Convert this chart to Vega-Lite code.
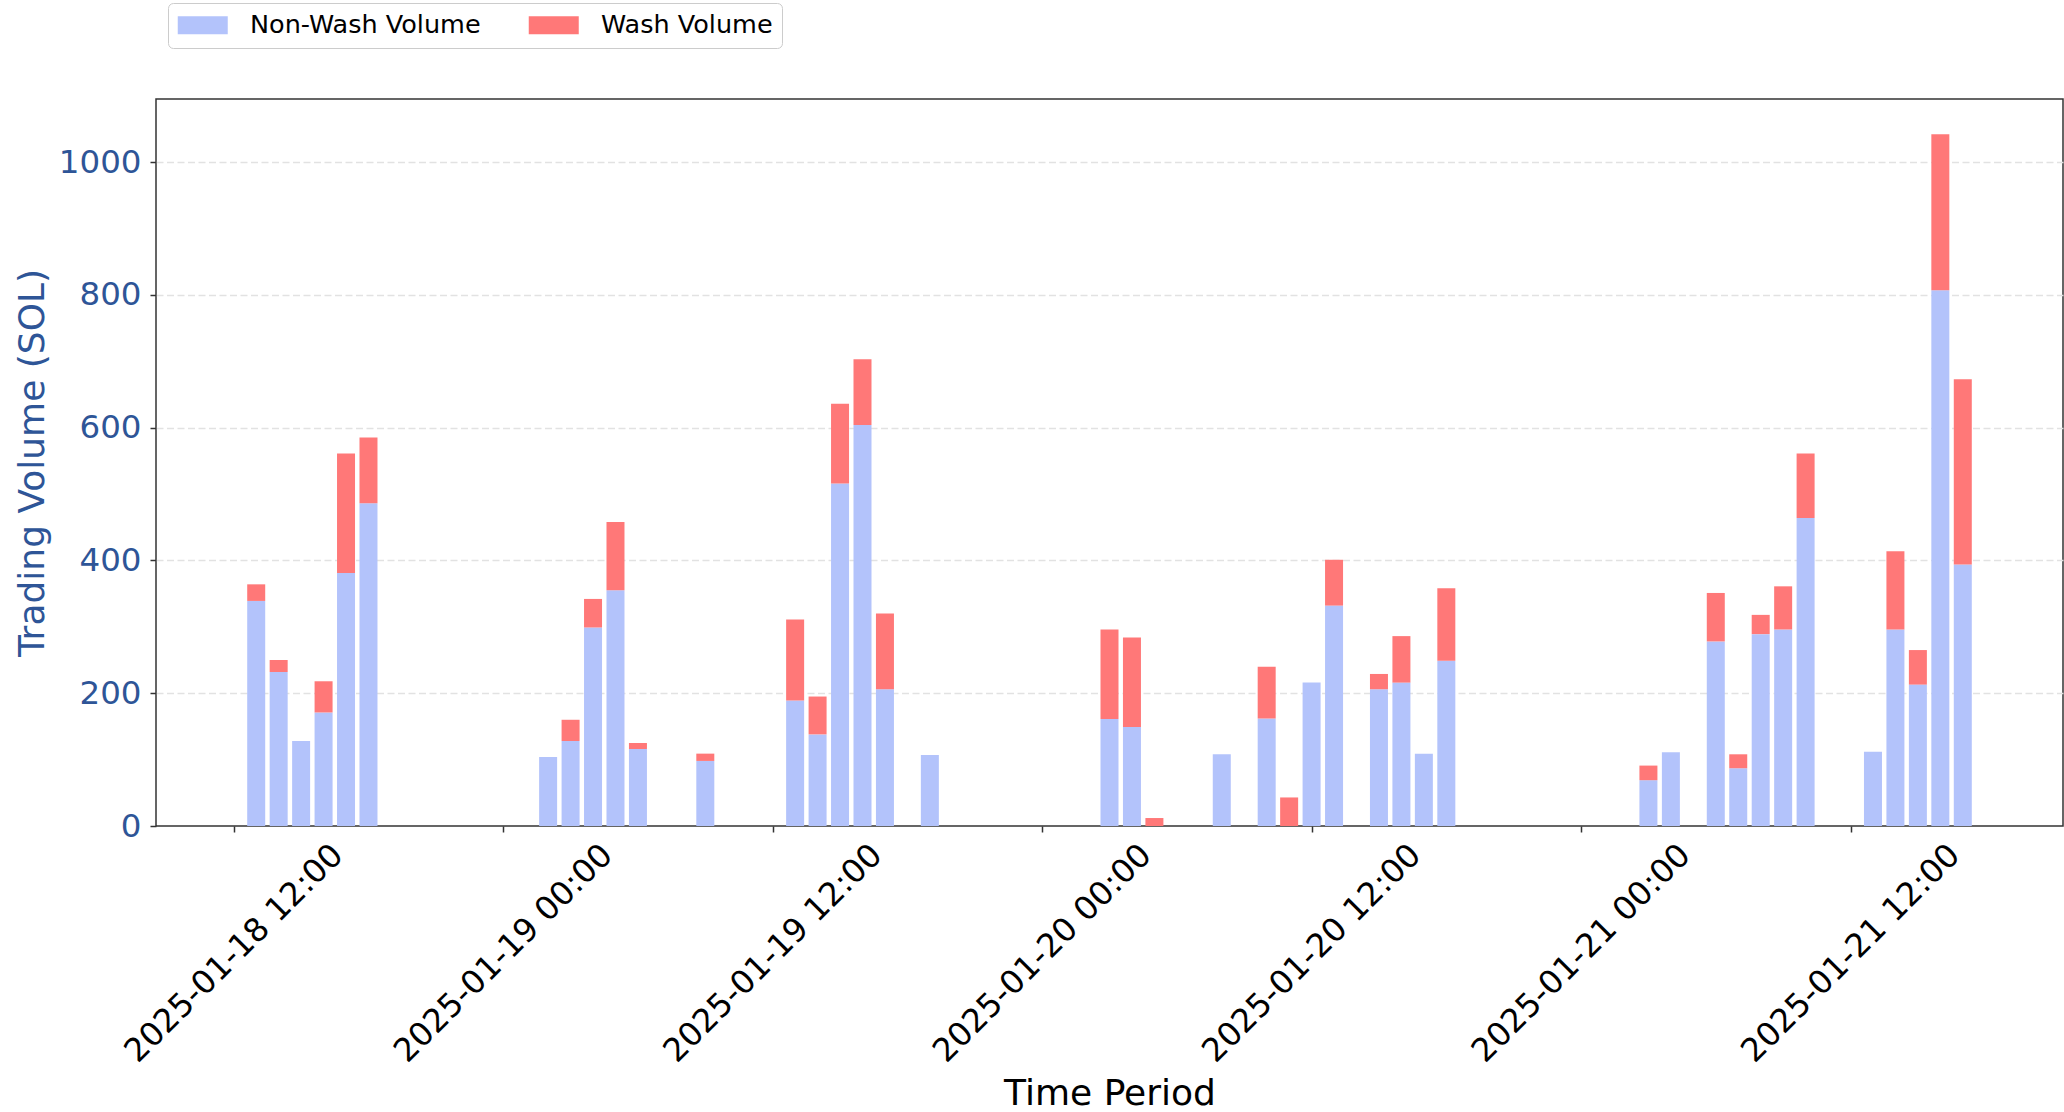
{
  "$schema": "https://vega.github.io/schema/vega-lite/v6.json",
  "width": 1907,
  "height": 727,
  "autosize": {"type": "none"},
  "padding": {"left": 156, "top": 99, "right": 1, "bottom": 286},
  "background": "white",
  "config": {
    "font": "DejaVu Sans",
    "view": {"stroke": "#333333", "strokeWidth": 1.5}
  },
  "data": {
    "values": [
      {"time": "2025-01-18T13:00:00Z", "series": "Non-Wash Volume", "volume": 339},
      {"time": "2025-01-18T13:00:00Z", "series": "Wash Volume", "volume": 25},
      {"time": "2025-01-18T14:00:00Z", "series": "Non-Wash Volume", "volume": 232},
      {"time": "2025-01-18T14:00:00Z", "series": "Wash Volume", "volume": 18},
      {"time": "2025-01-18T15:00:00Z", "series": "Non-Wash Volume", "volume": 128},
      {"time": "2025-01-18T16:00:00Z", "series": "Non-Wash Volume", "volume": 171},
      {"time": "2025-01-18T16:00:00Z", "series": "Wash Volume", "volume": 47},
      {"time": "2025-01-18T17:00:00Z", "series": "Non-Wash Volume", "volume": 381},
      {"time": "2025-01-18T17:00:00Z", "series": "Wash Volume", "volume": 180},
      {"time": "2025-01-18T18:00:00Z", "series": "Non-Wash Volume", "volume": 486},
      {"time": "2025-01-18T18:00:00Z", "series": "Wash Volume", "volume": 99},

      {"time": "2025-01-19T02:00:00Z", "series": "Non-Wash Volume", "volume": 104},
      {"time": "2025-01-19T03:00:00Z", "series": "Non-Wash Volume", "volume": 128},
      {"time": "2025-01-19T03:00:00Z", "series": "Wash Volume", "volume": 32},
      {"time": "2025-01-19T04:00:00Z", "series": "Non-Wash Volume", "volume": 299},
      {"time": "2025-01-19T04:00:00Z", "series": "Wash Volume", "volume": 43},
      {"time": "2025-01-19T05:00:00Z", "series": "Non-Wash Volume", "volume": 355},
      {"time": "2025-01-19T05:00:00Z", "series": "Wash Volume", "volume": 103},
      {"time": "2025-01-19T06:00:00Z", "series": "Non-Wash Volume", "volume": 116},
      {"time": "2025-01-19T06:00:00Z", "series": "Wash Volume", "volume": 9},
      {"time": "2025-01-19T09:00:00Z", "series": "Non-Wash Volume", "volume": 98},
      {"time": "2025-01-19T09:00:00Z", "series": "Wash Volume", "volume": 11},
      {"time": "2025-01-19T13:00:00Z", "series": "Non-Wash Volume", "volume": 189},
      {"time": "2025-01-19T13:00:00Z", "series": "Wash Volume", "volume": 122},
      {"time": "2025-01-19T14:00:00Z", "series": "Non-Wash Volume", "volume": 138},
      {"time": "2025-01-19T14:00:00Z", "series": "Wash Volume", "volume": 57},
      {"time": "2025-01-19T15:00:00Z", "series": "Non-Wash Volume", "volume": 516},
      {"time": "2025-01-19T15:00:00Z", "series": "Wash Volume", "volume": 120},
      {"time": "2025-01-19T16:00:00Z", "series": "Non-Wash Volume", "volume": 604},
      {"time": "2025-01-19T16:00:00Z", "series": "Wash Volume", "volume": 99},
      {"time": "2025-01-19T17:00:00Z", "series": "Non-Wash Volume", "volume": 206},
      {"time": "2025-01-19T17:00:00Z", "series": "Wash Volume", "volume": 114},
      {"time": "2025-01-19T19:00:00Z", "series": "Non-Wash Volume", "volume": 107},

      {"time": "2025-01-20T03:00:00Z", "series": "Non-Wash Volume", "volume": 161},
      {"time": "2025-01-20T03:00:00Z", "series": "Wash Volume", "volume": 135},
      {"time": "2025-01-20T04:00:00Z", "series": "Non-Wash Volume", "volume": 149},
      {"time": "2025-01-20T04:00:00Z", "series": "Wash Volume", "volume": 135},
      {"time": "2025-01-20T05:00:00Z", "series": "Wash Volume", "volume": 12},
      {"time": "2025-01-20T08:00:00Z", "series": "Non-Wash Volume", "volume": 108},
      {"time": "2025-01-20T10:00:00Z", "series": "Non-Wash Volume", "volume": 162},
      {"time": "2025-01-20T10:00:00Z", "series": "Wash Volume", "volume": 78},
      {"time": "2025-01-20T11:00:00Z", "series": "Wash Volume", "volume": 43},
      {"time": "2025-01-20T12:00:00Z", "series": "Non-Wash Volume", "volume": 216},
      {"time": "2025-01-20T13:00:00Z", "series": "Non-Wash Volume", "volume": 332},
      {"time": "2025-01-20T13:00:00Z", "series": "Wash Volume", "volume": 69},
      {"time": "2025-01-20T15:00:00Z", "series": "Non-Wash Volume", "volume": 206},
      {"time": "2025-01-20T15:00:00Z", "series": "Wash Volume", "volume": 23},
      {"time": "2025-01-20T16:00:00Z", "series": "Non-Wash Volume", "volume": 216},
      {"time": "2025-01-20T16:00:00Z", "series": "Wash Volume", "volume": 70},
      {"time": "2025-01-20T17:00:00Z", "series": "Non-Wash Volume", "volume": 109},
      {"time": "2025-01-20T18:00:00Z", "series": "Non-Wash Volume", "volume": 249},
      {"time": "2025-01-20T18:00:00Z", "series": "Wash Volume", "volume": 109},

      {"time": "2025-01-21T03:00:00Z", "series": "Non-Wash Volume", "volume": 69},
      {"time": "2025-01-21T03:00:00Z", "series": "Wash Volume", "volume": 22},
      {"time": "2025-01-21T04:00:00Z", "series": "Non-Wash Volume", "volume": 111},
      {"time": "2025-01-21T06:00:00Z", "series": "Non-Wash Volume", "volume": 278},
      {"time": "2025-01-21T06:00:00Z", "series": "Wash Volume", "volume": 73},
      {"time": "2025-01-21T07:00:00Z", "series": "Non-Wash Volume", "volume": 87},
      {"time": "2025-01-21T07:00:00Z", "series": "Wash Volume", "volume": 21},
      {"time": "2025-01-21T08:00:00Z", "series": "Non-Wash Volume", "volume": 289},
      {"time": "2025-01-21T08:00:00Z", "series": "Wash Volume", "volume": 29},
      {"time": "2025-01-21T09:00:00Z", "series": "Non-Wash Volume", "volume": 296},
      {"time": "2025-01-21T09:00:00Z", "series": "Wash Volume", "volume": 65},
      {"time": "2025-01-21T10:00:00Z", "series": "Non-Wash Volume", "volume": 464},
      {"time": "2025-01-21T10:00:00Z", "series": "Wash Volume", "volume": 97},
      {"time": "2025-01-21T13:00:00Z", "series": "Non-Wash Volume", "volume": 112},
      {"time": "2025-01-21T14:00:00Z", "series": "Non-Wash Volume", "volume": 296},
      {"time": "2025-01-21T14:00:00Z", "series": "Wash Volume", "volume": 118},
      {"time": "2025-01-21T15:00:00Z", "series": "Non-Wash Volume", "volume": 213},
      {"time": "2025-01-21T15:00:00Z", "series": "Wash Volume", "volume": 52},
      {"time": "2025-01-21T16:00:00Z", "series": "Non-Wash Volume", "volume": 807},
      {"time": "2025-01-21T16:00:00Z", "series": "Wash Volume", "volume": 235},
      {"time": "2025-01-21T17:00:00Z", "series": "Non-Wash Volume", "volume": 394},
      {"time": "2025-01-21T17:00:00Z", "series": "Wash Volume", "volume": 279}
    ]
  },
  "mark": {"type": "bar", "width": 18},
  "encoding": {
    "x": {
      "field": "time",
      "type": "temporal",
      "scale": {
        "type": "utc",
        "domain": [
          {"year": 2025, "month": 1, "date": 18, "hours": 8, "minutes": 45, "seconds": 36, "utc": true},
          {"year": 2025, "month": 1, "date": 21, "hours": 21, "minutes": 14, "seconds": 24, "utc": true}
        ],
        "nice": false
      },
      "axis": {
        "title": "Time Period",
        "titleFontSize": 36,
        "titleFontWeight": "normal",
        "titleColor": "#000000",
        "titlePadding": 50,
        "values": [
          {"year": 2025, "month": 1, "date": 18, "hours": 12, "utc": true},
          {"year": 2025, "month": 1, "date": 19, "hours": 0, "utc": true},
          {"year": 2025, "month": 1, "date": 19, "hours": 12, "utc": true},
          {"year": 2025, "month": 1, "date": 20, "hours": 0, "utc": true},
          {"year": 2025, "month": 1, "date": 20, "hours": 12, "utc": true},
          {"year": 2025, "month": 1, "date": 21, "hours": 0, "utc": true},
          {"year": 2025, "month": 1, "date": 21, "hours": 12, "utc": true}
        ],
        "labelExpr": "utcFormat(datum.value, '%Y-%m-%d %H:%M')",
        "labelAngle": -45,
        "labelAlign": "center",
        "labelBaseline": "middle",
        "labelPadding": 121,
        "labelFontSize": 32.5,
        "labelColor": "#000000",
        "labelLimit": 0,
        "labelOverlap": false,
        "labelBound": false,
        "labelFlush": false,
        "tickSize": 6,
        "tickColor": "#333333",
        "tickWidth": 1.5,
        "domain": false,
        "grid": false
      }
    },
    "y": {
      "field": "volume",
      "type": "quantitative",
      "stack": "zero",
      "scale": {"domain": [0, 1095], "nice": false, "zero": true},
      "axis": {
        "title": "Trading Volume (SOL)",
        "titleFontSize": 36,
        "titleFontWeight": "normal",
        "titleColor": "#2e5597",
        "titlePadding": 7,
        "values": [0, 200, 400, 600, 800, 1000],
        "format": "d",
        "labelFontSize": 32.5,
        "labelColor": "#2e5597",
        "labelPadding": 9,
        "tickSize": 6,
        "tickColor": "#333333",
        "tickWidth": 1.5,
        "domain": false,
        "grid": true,
        "gridColor": "#e2e2e2",
        "gridDash": [7, 3.5],
        "gridWidth": 1.3,
        "gridOpacity": {"condition": {"test": "datum.value === 0", "value": 0}, "value": 1}
      }
    },
    "color": {
      "field": "series",
      "type": "nominal",
      "scale": {
        "domain": ["Non-Wash Volume", "Wash Volume"],
        "range": ["#b3c3fb", "#ff7878"]
      },
      "legend": {
        "orient": "none",
        "legendX": 12,
        "legendY": -96,
        "direction": "horizontal",
        "title": null,
        "labelFontSize": 25.5,
        "labelColor": "#000000",
        "labelLimit": 0,
        "symbolType": "M-2.5,-0.9L2.5,-0.9L2.5,0.9L-2.5,0.9Z",
        "symbolSize": 400,
        "symbolStrokeWidth": 0,
        "symbolOpacity": 1,
        "symbolOffset": 13,
        "labelOffset": 34.5,
        "columnPadding": 47,
        "padding": 9,
        "strokeColor": "#cccccc",
        "cornerRadius": 5,
        "fillColor": "#ffffff"
      }
    },
    "order": {"field": "series", "sort": "ascending"}
  }
}
